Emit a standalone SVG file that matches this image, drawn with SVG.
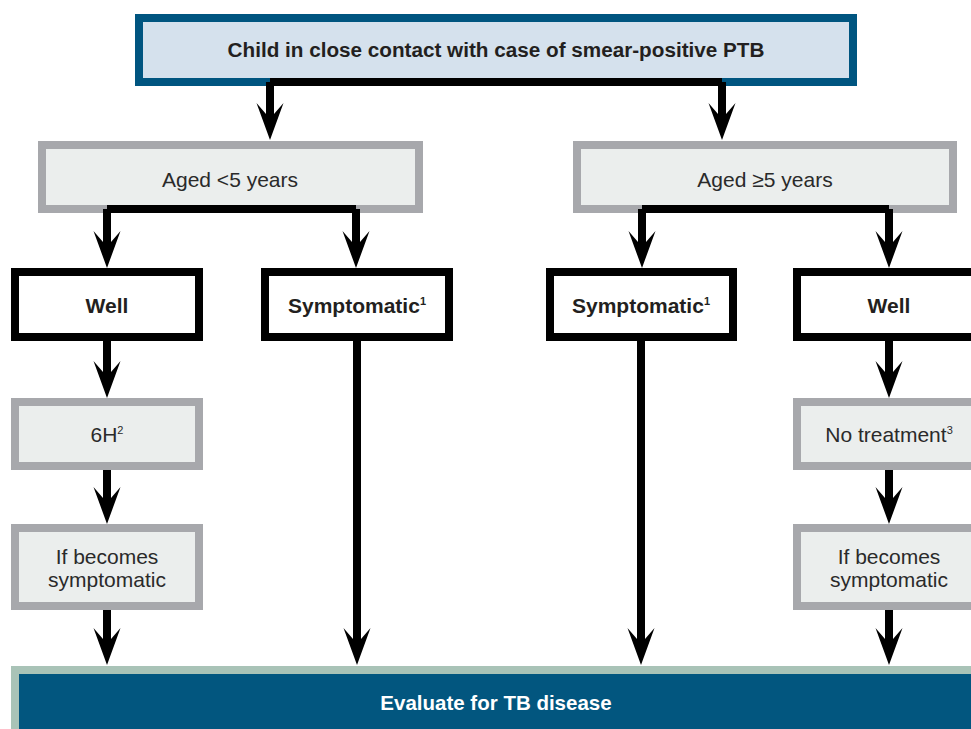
<svg xmlns="http://www.w3.org/2000/svg" width="971" height="729" viewBox="0 0 971 729">
<style>
text{font-family:"Liberation Sans",Arial,sans-serif;text-anchor:middle;fill:#231f20}
.b{font-weight:bold;font-size:21px}
.r{font-size:21px;fill:#2a2a2a}
.sup{font-size:11px}
.top{fill:#d5e1ed;stroke:#005580;stroke-width:8}
.gray{fill:#ebeeed;stroke:#a7a8ac;stroke-width:8}
.blk{fill:#fff;stroke:#000;stroke-width:8}
.eval{fill:#02567f;stroke:#a9c3b7;stroke-width:8}
.ln{fill:none;stroke:#000;stroke-width:8}
</style>
<defs>
<path id="ah" d="M0,0 L-13.5,-37 L-4,-26 L4,-26 L13.5,-37 Z" fill="#000"/>
</defs>
<rect width="971" height="729" fill="#fff"/>
<g id="n-top">
<rect class="top" x="139" y="18" width="714" height="64"/>
<text class="b" x="496" y="57" style="font-size:20.7px">Child in close contact with case of smear-positive PTB</text>
</g>
<g id="n-aged-lt5">
<rect class="gray" x="42" y="145" width="377" height="64"/>
<text class="r" x="230" y="187">Aged &lt;5 years</text>
</g>
<g id="n-aged-ge5">
<rect class="gray" x="577" y="145" width="376" height="64"/>
<text class="r" x="765" y="187">Aged ≥5 years</text>
</g>
<g id="n-well-l">
<rect class="blk" x="15" y="272" width="184" height="65"/>
<text class="b" x="107" y="313">Well</text>
</g>
<g id="n-symp-l">
<rect class="blk" x="265" y="272" width="184" height="65"/>
<text class="b" x="357" y="313">Symptomatic<tspan class="sup" dy="-8">1</tspan></text>
</g>
<g id="n-symp-r">
<rect class="blk" x="550" y="272" width="183" height="65"/>
<text class="b" x="641" y="313">Symptomatic<tspan class="sup" dy="-8">1</tspan></text>
</g>
<g id="n-well-r">
<rect class="blk" x="797" y="272" width="184" height="65"/>
<text class="b" x="889" y="313">Well</text>
</g>
<g id="n-6h">
<rect class="gray" x="15" y="402" width="184" height="64"/>
<text class="r" x="107" y="442">6H<tspan class="sup" dy="-8">2</tspan></text>
</g>
<g id="n-notreat">
<rect class="gray" x="797" y="402" width="184" height="64"/>
<text class="r" x="889" y="442">No treatment<tspan class="sup" dy="-8">3</tspan></text>
</g>
<g id="n-ifsymp-l">
<rect class="gray" x="15" y="528" width="184" height="78"/>
<text class="r" x="107" y="564">If becomes</text>
<text class="r" x="107" y="587">symptomatic</text>
</g>
<g id="n-ifsymp-r">
<rect class="gray" x="797" y="528" width="184" height="78"/>
<text class="r" x="889" y="564">If becomes</text>
<text class="r" x="889" y="587">symptomatic</text>
</g>
<g id="n-eval">
<rect class="eval" x="15" y="670" width="970" height="70"/>
<text class="b" x="496" y="710" style="fill:#fff;font-size:20.5px">Evaluate for TB disease</text>
</g>
<g id="connectors">
<path class="ln" d="M270,82 H722 M270,82 V116 M722,82 V116"/>
<use href="#ah" x="270" y="140"/><use href="#ah" x="722" y="140"/>
<path class="ln" d="M107,209 H356 M107,209 V244 M356,209 V244"/>
<use href="#ah" x="107" y="268"/><use href="#ah" x="356" y="268"/>
<path class="ln" d="M642,209 H889 M642,209 V244 M889,209 V244"/>
<use href="#ah" x="642" y="268"/><use href="#ah" x="889" y="268"/>
<path class="ln" d="M107,341 V374 M107,470 V500 M107,610 V641"/>
<use href="#ah" x="107" y="398"/><use href="#ah" x="107" y="524"/><use href="#ah" x="107" y="665"/>
<path class="ln" d="M357,341 V641 M641,341 V641"/>
<use href="#ah" x="357" y="665"/><use href="#ah" x="641" y="665"/>
<path class="ln" d="M889,341 V374 M889,470 V500 M889,610 V641"/>
<use href="#ah" x="889" y="398"/><use href="#ah" x="889" y="524"/><use href="#ah" x="889" y="665"/>
</g>
</svg>
